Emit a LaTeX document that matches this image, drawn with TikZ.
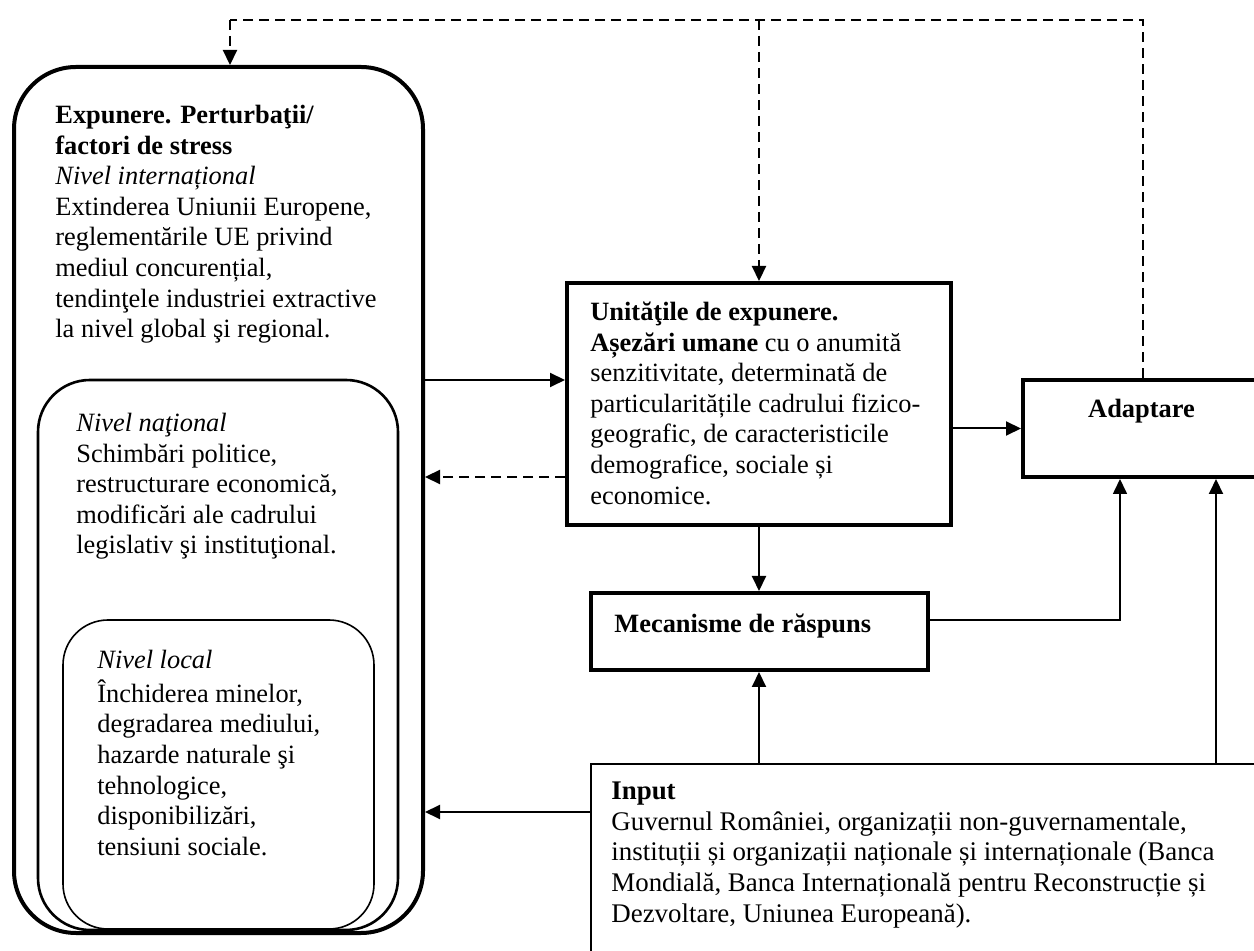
\documentclass[tikz,border=0pt]{standalone}
\usepackage{fontspec}
\setmainfont{Liberation Serif}
\usetikzlibrary{arrows.meta}
\newcommand{\dfont}{\fontsize{13.2pt}{15.3pt}\selectfont}
\newcommand{\ifont}{\fontsize{13.45pt}{15.4pt}\selectfont}
\begin{document}
\begin{tikzpicture}[x=0.5pt,y=-0.5pt,
  every node/.style={font=\dfont},
  rbox/.style={draw, rectangle, inner sep=0pt},
  thickbox/.style={draw, rectangle, line width=2pt, inner sep=0pt},
  txt/.style={anchor=north west, inner sep=0pt, align=left},
  arr/.style={line width=1pt, -{Triangle[length=7.5pt,width=7pt]}},
  darr/.style={arr, line width=1.1pt, dash pattern=on 5pt off 3pt},
  dline/.style={line width=0.8pt, dash pattern=on 5pt off 3pt}]
\useasboundingbox (0,0) rectangle (1254,951);
\clip (0,0) rectangle (1254,951);

% left nested boxes
\node[rbox, line width=2pt, rounded corners=31pt, minimum width=204.5pt, minimum height=433pt] (outer) at (218.5,500) {};
\node[rbox, line width=1.3pt, rounded corners=26pt, minimum width=180pt, minimum height=275pt] (mid) at (218,655) {};
\node[rbox, line width=0.8pt, rounded corners=22.5pt, minimum width=155.5pt, minimum height=154.5pt] (inner) at (218.5,774.5) {};

\node[txt] (outertxt) at (55,101.6) {\strut\textbf{Expunere. Perturbaţii/}\\
\textbf{factori de stress}\\
\textit{Nivel internațional}\\
Extinderea Uniunii Europene,\\
reglementările UE privind\\
mediul concurențial,\\
tendinţele industriei extractive\\
la nivel global şi regional.};

\node[txt] (midtxt) at (76,409.6) {\strut\textit{Nivel naţional}\\
Schimbări politice,\\
restructurare economică,\\
modificări ale cadrului\\
legislativ şi instituţional.};

\node[txt] (innertxt) at (97,646.6) {\strut\textit{Nivel local}\\
Închiderea minelor,\\
degradarea mediului,\\
hazarde naturale şi\\
tehnologice,\\
disponibilizări,\\
tensiuni sociale.};

% right boxes
\node[thickbox, minimum width=192pt, minimum height=121pt] (unit) at (759,404) {};
\node[txt] (unittxt) at (590,298.6) {\strut\textbf{Unităţile de expunere.}\\
\textbf{Așezări umane} cu o anumită\\
senzitivitate, determinată de\\
particularitățile cadrului fizico-\\
geografic, de caracteristicile\\
demografice, sociale și\\
economice.};

\node[thickbox, minimum width=168.5pt, minimum height=38.5pt] (mech) at (759,631.5) {};
\node[anchor=base west, inner sep=0pt] (mechtxt) at (614,633) {\textbf{Mecanisme de răspuns}};

\node[thickbox, minimum width=138.5pt, minimum height=48.5pt] (adapt) at (1161.5,428.5) {};
\node[anchor=base, inner sep=0pt] (adapttxt) at (1141.5,418) {\textbf{Adaptare}};

\node[rbox, line width=0.6pt, minimum width=354.5pt, minimum height=118pt] (inp) at (945.5,882) {};
\node[txt, font=\ifont] (inptxt) at (611,777.4) {\strut\textbf{Input}\\
Guvernul României, organizații non-guvernamentale,\\
instituții și organizații naționale și internaționale (Banca\\
Mondială, Banca Internațională pentru Reconstrucție și\\
Dezvoltare, Uniunea Europeană).};

% coordinates for connector routes
\coordinate (fbR) at (1143,20);
\coordinate (fbL) at (230,20);
\coordinate (fbM) at (759,20);
\coordinate (yA) at (500,380);
\coordinate (yB) at (500,477);
\coordinate (mR) at (1120,620);
\coordinate (iR) at (1216,700);
\coordinate (yC) at (500,812);

% feedback dashed lines
\draw[dline] (fbR |- adapt.north) -- (fbR) -- (fbL);
\draw[darr] (fbL) -- (fbL |- outer.north);
\draw[darr] (fbM) -- (unit.north);

% solid connectors
\draw[arr] (yA -| outer.east) -- (yA -| unit.west);
\draw[darr] (yB -| unit.west) -- (yB -| outer.east);
\draw[arr] (adapt.west -| unit.east) -- (adapt.west);
\draw[arr] (unit.south) -- (mech.north);
\draw[arr, line width=0.8pt] (mR -| mech.east) -- (mR) -- (mR |- adapt.south);
\draw[arr] (inp.north -| mech.south) -- (mech.south);
\draw[arr] (iR |- inp.north) -- (iR |- adapt.south);
\draw[arr] (yC -| inp.west) -- (yC -| outer.east);
\end{tikzpicture}
\end{document}
